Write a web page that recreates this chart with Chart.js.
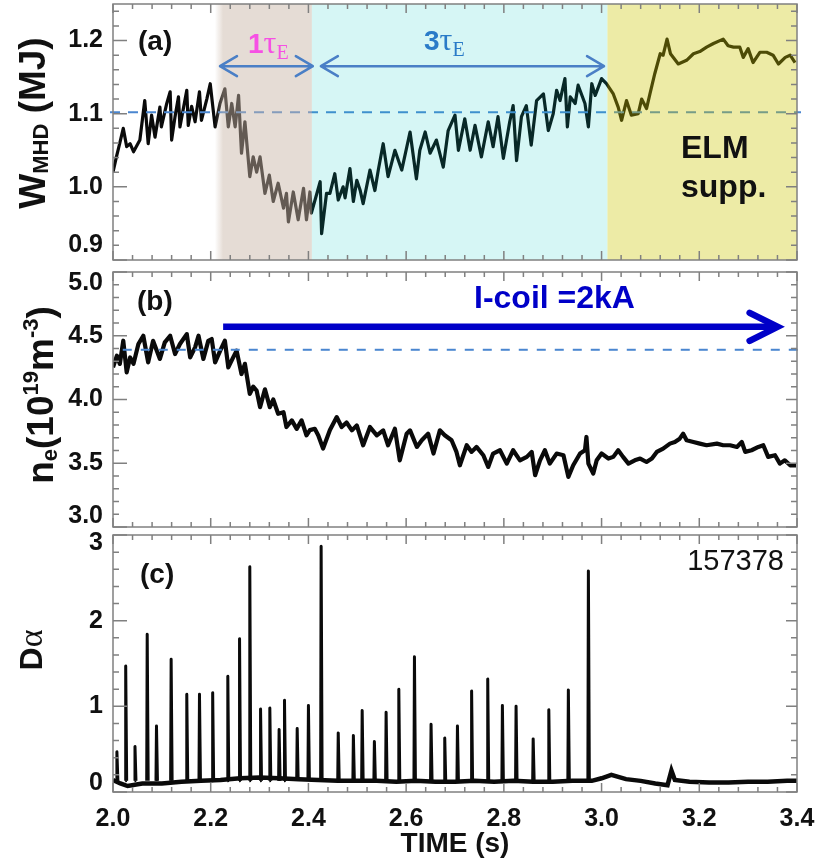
<!DOCTYPE html>
<html>
<head>
<meta charset="utf-8">
<script src="https://cdn.jsdelivr.net/npm/chart.js@4.4.0/dist/chart.umd.min.js"></script>
<style>
  body { margin: 0; background: #fff; width: 822px; height: 865px; overflow: hidden; position: relative; }
  canvas { position: absolute; left: 0; }
</style>
</head>
<body>
<canvas id="chartA" width="822" height="264" style="top:0px"></canvas>
<canvas id="chartB" width="822" height="263" style="top:268px"></canvas>
<canvas id="chartC" width="822" height="335" style="top:530px"></canvas>
<script>
// values (shot 157378)
const timeA = [2.000, 2.007, 2.014, 2.021, 2.028, 2.035, 2.042, 2.055, 2.065, 2.072,
  2.079, 2.086, 2.096, 2.099, 2.110, 2.117, 2.120, 2.127, 2.134, 2.137,
  2.151, 2.154, 2.161, 2.168, 2.177, 2.181, 2.192, 2.199, 2.209, 2.219,
  2.229, 2.236, 2.243, 2.250, 2.257, 2.263, 2.270, 2.280, 2.287, 2.294,
  2.301, 2.311, 2.320, 2.328, 2.338, 2.349, 2.355, 2.359, 2.369, 2.379,
  2.390, 2.396, 2.403, 2.406, 2.424, 2.427, 2.437, 2.444, 2.454, 2.461,
  2.471, 2.475, 2.485, 2.492, 2.499, 2.506, 2.512, 2.526, 2.536, 2.543,
  2.553, 2.563, 2.577, 2.591, 2.608, 2.621, 2.628, 2.639, 2.649, 2.662,
  2.676, 2.686, 2.700, 2.707, 2.720, 2.731, 2.741, 2.754, 2.768, 2.778,
  2.788, 2.799, 2.812, 2.819, 2.826, 2.836, 2.846, 2.856, 2.867, 2.881,
  2.891, 2.901, 2.908, 2.915, 2.925, 2.930, 2.936, 2.946, 2.952, 2.966,
  2.973, 2.980, 2.987, 3.000, 3.010, 3.024, 3.034, 3.041, 3.051, 3.061,
  3.075, 3.082, 3.092, 3.099, 3.109, 3.120, 3.126, 3.134, 3.141, 3.157,
  3.174, 3.188, 3.201, 3.215, 3.229, 3.249, 3.259, 3.270, 3.283, 3.290,
  3.300, 3.310, 3.324, 3.338, 3.351, 3.362, 3.376, 3.386, 3.396];
const wmhd = [1.020, 1.041, 1.060, 1.080, 1.055, 1.059, 1.048, 1.064, 1.118, 1.059,
  1.098, 1.068, 1.109, 1.082, 1.114, 1.130, 1.064, 1.096, 1.123, 1.082,
  1.132, 1.084, 1.110, 1.089, 1.130, 1.091, 1.120, 1.141, 1.082, 1.114,
  1.134, 1.082, 1.114, 1.082, 1.125, 1.046, 1.089, 1.014, 1.041, 1.020,
  1.041, 0.991, 1.016, 0.980, 1.005, 0.971, 0.991, 0.952, 0.993, 0.955,
  0.998, 0.955, 0.993, 0.964, 1.007, 0.936, 0.991, 0.991, 1.018, 0.982,
  1.000, 0.985, 1.025, 0.980, 1.009, 0.995, 0.977, 1.023, 0.995, 1.023,
  1.059, 1.014, 1.050, 1.023, 1.075, 1.011, 1.050, 1.075, 1.046, 1.064,
  1.027, 1.077, 1.098, 1.050, 1.093, 1.050, 1.084, 1.041, 1.089, 1.055,
  1.096, 1.039, 1.089, 1.111, 1.036, 1.096, 1.111, 1.057, 1.118, 1.127,
  1.077, 1.100, 1.132, 1.118, 1.148, 1.082, 1.123, 1.114, 1.139, 1.114,
  1.082, 1.141, 1.125, 1.148, 1.141, 1.127, 1.109, 1.091, 1.118, 1.098,
  1.100, 1.120, 1.107, 1.127, 1.155, 1.182, 1.180, 1.202, 1.182, 1.168,
  1.173, 1.182, 1.185, 1.191, 1.196, 1.202, 1.193, 1.191, 1.191, 1.177,
  1.189, 1.170, 1.184, 1.184, 1.180, 1.168, 1.177, 1.180, 1.170];

const timeB = [2.000, 2.008, 2.014, 2.021, 2.028, 2.035, 2.042, 2.052, 2.062, 2.072,
  2.082, 2.096, 2.106, 2.117, 2.127, 2.137, 2.151, 2.158, 2.168, 2.175,
  2.185, 2.195, 2.202, 2.209, 2.219, 2.229, 2.236, 2.246, 2.253, 2.263,
  2.270, 2.280, 2.287, 2.294, 2.301, 2.311, 2.321, 2.328, 2.338, 2.349,
  2.355, 2.366, 2.376, 2.386, 2.396, 2.403, 2.413, 2.420, 2.430, 2.444,
  2.458, 2.468, 2.478, 2.489, 2.499, 2.512, 2.526, 2.540, 2.553, 2.563,
  2.577, 2.587, 2.601, 2.608, 2.622, 2.632, 2.645, 2.656, 2.669, 2.679,
  2.693, 2.703, 2.710, 2.724, 2.734, 2.744, 2.758, 2.768, 2.778, 2.792,
  2.806, 2.819, 2.833, 2.847, 2.857, 2.864, 2.874, 2.884, 2.894, 2.908,
  2.922, 2.932, 2.942, 2.956, 2.966, 2.969, 2.973, 2.983, 2.990, 3.000,
  3.014, 3.024, 3.034, 3.044, 3.055, 3.068, 3.079, 3.092, 3.103, 3.113,
  3.126, 3.140, 3.150, 3.160, 3.167, 3.174, 3.188, 3.201, 3.215, 3.236,
  3.249, 3.263, 3.277, 3.287, 3.294, 3.307, 3.321, 3.331, 3.341, 3.355,
  3.365, 3.375, 3.386, 3.398];
const density = [4.252, 4.344, 4.279, 4.461, 4.213, 4.330, 4.280, 4.435, 4.500, 4.291,
  4.460, 4.318, 4.448, 4.500, 4.357, 4.435, 4.513, 4.330, 4.409, 4.500,
  4.318, 4.460, 4.474, 4.291, 4.380, 4.461, 4.252, 4.330, 4.383, 4.200,
  4.280, 4.044, 4.100, 4.070, 3.940, 4.080, 3.940, 4.000, 3.888, 3.900,
  3.784, 3.836, 3.770, 3.836, 3.719, 3.760, 3.770, 3.720, 3.615, 3.760,
  3.862, 3.784, 3.820, 3.758, 3.797, 3.641, 3.784, 3.719, 3.758, 3.641,
  3.771, 3.523, 3.732, 3.758, 3.628, 3.680, 3.732, 3.576, 3.758, 3.720,
  3.680, 3.589, 3.484, 3.641, 3.589, 3.628, 3.563, 3.471, 3.576, 3.602,
  3.497, 3.602, 3.523, 3.550, 3.589, 3.406, 3.523, 3.602, 3.497, 3.576,
  3.563, 3.393, 3.484, 3.576, 3.602, 3.706, 3.497, 3.419, 3.523, 3.576,
  3.537, 3.550, 3.602, 3.550, 3.497, 3.523, 3.537, 3.510, 3.537, 3.589,
  3.615, 3.654, 3.667, 3.693, 3.732, 3.680, 3.667, 3.654, 3.641, 3.654,
  3.641, 3.641, 3.628, 3.667, 3.589, 3.602, 3.628, 3.641, 3.550, 3.563,
  3.497, 3.523, 3.484, 3.484];

const elmTimes = [2.008, 2.026, 2.045, 2.070, 2.089, 2.119, 2.151, 2.177, 2.204, 2.235,
  2.259, 2.280, 2.302, 2.321, 2.340, 2.351, 2.377, 2.400, 2.426, 2.461,
  2.492, 2.510, 2.535, 2.559, 2.585, 2.617, 2.651, 2.679, 2.705, 2.734,
  2.767, 2.797, 2.825, 2.860, 2.892, 2.932, 2.973];
const elmPeaks = [0.47, 1.47, 0.53, 1.84, 0.77, 1.55, 1.14, 1.14, 1.16, 1.35,
  1.79, 2.63, 0.97, 0.98, 0.73, 1.07, 0.74, 1.01, 2.87, 0.69,
  0.66, 0.95, 0.59, 0.93, 1.20, 1.58, 0.79, 0.63, 0.77, 1.18,
  1.32, 1.01, 1.00, 0.62, 0.96, 1.19, 2.58];
const elmFoot = 0.13;
const baseTimes = [2.000, 2.015, 2.030, 2.060, 2.100, 2.140, 2.180, 2.220, 2.260, 2.300,
  2.340, 2.380, 2.420, 2.460, 2.500, 2.540, 2.580, 2.620, 2.660, 2.700,
  2.740, 2.780, 2.820, 2.860, 2.900, 2.940, 2.980, 3.000, 3.020, 3.050,
  3.080, 3.110, 3.135, 3.143, 3.150, 3.180, 3.220, 3.260, 3.300, 3.340,
  3.380, 3.400];
const baseDa = [0.14, 0.10, 0.07, 0.10, 0.10, 0.12, 0.13, 0.14, 0.16, 0.17,
  0.16, 0.15, 0.14, 0.13, 0.13, 0.13, 0.12, 0.13, 0.12, 0.12,
  0.13, 0.12, 0.13, 0.12, 0.12, 0.13, 0.13, 0.16, 0.20, 0.15,
  0.13, 0.10, 0.08, 0.25, 0.14, 0.12, 0.11, 0.11, 0.12, 0.12,
  0.13, 0.13];

const xTickLabels = [2.0, 2.2, 2.4, 2.6, 2.8, 3.0, 3.2, 3.4];
const yTicksA = [0.9, 1.0, 1.1, 1.2];
const yTicksB = [3.0, 3.5, 4.0, 4.5, 5.0];
const yTicksC = [0, 1, 2, 3];
const refW = 1.102;
const refNe = 4.39;

const SANS = "'Liberation Sans', Arial, sans-serif";
const SERIF = "'Liberation Serif', 'DejaVu Serif', serif";

// phase bands of panel (a): [from, to, r, g, b, alpha] laid over the trace
const bands = [
  [2.225, 2.407, 200, 181, 166, 0.47],
  [2.407, 3.012, 0, 196, 190, 0.16],
  [3.012, 3.4, 204, 198, 0, 0.35],
];

function drawRich(ctx, parts, x, y, angle, align) {
  ctx.save();
  ctx.translate(x, y);
  ctx.rotate(angle);
  ctx.textBaseline = "alphabetic";
  ctx.textAlign = "left";
  let total = 0;
  parts.forEach((p) => {
    ctx.font = p.f;
    total += ctx.measureText(p.t).width;
  });
  let cx = align === "center" ? -total / 2 : 0;
  parts.forEach((p) => {
    ctx.font = p.f;
    ctx.fillStyle = p.c || "#111";
    ctx.fillText(p.t, cx, p.dy || 0);
    cx += ctx.measureText(p.t).width;
  });
  ctx.restore();
}

function dashed(ctx, x0, x1, yy, color, dash, w) {
  ctx.save();
  ctx.strokeStyle = color;
  ctx.lineWidth = w;
  ctx.setLineDash(dash);
  ctx.beginPath();
  ctx.moveTo(x0, yy);
  ctx.lineTo(x1, yy);
  ctx.stroke();
  ctx.restore();
}

// IDL style box with inward ticks on all four sides
function drawFrame(chart, minor, major) {
  const { ctx, chartArea: a, scales } = chart;
  const x = scales.x, y = scales.y;
  ctx.save();
  ctx.strokeStyle = "#808080";
  ctx.lineWidth = 1.5;
  ctx.strokeRect(a.left, a.top, a.right - a.left, a.bottom - a.top);
  ctx.beginPath();
  for (let i = 0; i <= 35; i++) {
    const px = x.getPixelForValue(x.min + i * 0.04);
    const len = i % 5 === 0 ? 9 : 5;
    ctx.moveTo(px, a.bottom);
    ctx.lineTo(px, a.bottom - len);
    ctx.moveTo(px, a.top);
    ctx.lineTo(px, a.top + len);
  }
  const n = Math.floor((y.max - y.min) / minor + 1e-6);
  for (let i = 0; i <= n; i++) {
    const v = y.min + i * minor;
    const py = y.getPixelForValue(v);
    const isMajor = Math.abs(v / major - Math.round(v / major)) < 1e-6;
    ctx.moveTo(a.left, py);
    ctx.lineTo(a.left + (isMajor ? 14 : 6), py);
    ctx.moveTo(a.right, py);
    ctx.lineTo(a.right - (isMajor ? 11 : 6), py);
  }
  ctx.stroke();
  ctx.restore();
}

function openHead(ctx, tx, ty, dir, len, half) {
  ctx.moveTo(tx - dir * len, ty - half);
  ctx.lineTo(tx, ty);
  ctx.lineTo(tx - dir * len, ty + half);
}

function yAxisCfg(ticks, lh, fmt, top) {
  return {
    afterFit: (s) => {
      s.width = 113;
      s.paddingTop = 0;
      s.paddingBottom = 0;
    },
    afterBuildTicks: (s) => { s.ticks = ticks.map((v) => ({ value: v })); },
    grid: { display: false, drawTicks: false },
    border: { display: false },
    ticks: {
      padding: 10,
      color: "#111",
      font: { family: SANS, size: 25, weight: "bold", lineHeight: lh },
      callback: (v) => {
        const s = fmt(v);
        if (v === ticks[0]) return [s, ""];
        if (v === top) return ["", s];
        return s;
      },
    },
  };
}

const baseOpts = {
  responsive: false,
  animation: false,
  events: [],
  plugins: { legend: { display: false }, tooltip: { enabled: false } },
};

// ---------- panel (a) W_MHD ----------
const annotA = {
  id: "annotA",
  afterDatasetsDraw(chart) {
    const { ctx, chartArea: a, scales: { x, y } } = chart;
    dashed(ctx, a.left - 3, a.right + 4, y.getPixelForValue(refW), "#4a86d0", [10, 8], 2);
    ctx.save();
    bands.forEach((b, i) => {
      const x0 = x.getPixelForValue(b[0]);
      const x1 = x.getPixelForValue(b[1]);
      const rgb = `${b[2]},${b[3]},${b[4]}`;
      ctx.globalAlpha = b[5];
      ctx.fillStyle = `rgb(${rgb})`;
      ctx.fillRect(x0, a.top, x1 - x0, a.bottom - a.top);
      if (i === 0) {
        // soft left edge of the first band
        const g = ctx.createLinearGradient(x0 - 8, 0, x0, 0);
        g.addColorStop(0, `rgba(${rgb},0)`);
        g.addColorStop(1, `rgba(${rgb},1)`);
        ctx.fillStyle = g;
        ctx.fillRect(x0 - 8, a.top, 8, a.bottom - a.top);
      }
    });
    ctx.restore();
    drawFrame(chart, 0.02, 0.1);

    // 1 tau_E and 3 tau_E arrows
    const ay = y.getPixelForValue(1.165);
    const ax = [2.219, 2.409, 2.4255, 3.005].map((v) => x.getPixelForValue(v));
    ctx.save();
    ctx.strokeStyle = "#4a7fc6";
    ctx.lineWidth = 2.5;
    ctx.lineCap = "round";
    ctx.lineJoin = "round";
    ctx.beginPath();
    ctx.moveTo(ax[0], ay); ctx.lineTo(ax[1], ay);
    openHead(ctx, ax[0], ay, -1, 17, 10);
    openHead(ctx, ax[1], ay, 1, 17, 10);
    ctx.moveTo(ax[2], ay); ctx.lineTo(ax[3], ay);
    openHead(ctx, ax[2], ay, -1, 17, 10);
    openHead(ctx, ax[3], ay, 1, 17, 10);
    ctx.stroke();
    ctx.restore();

    drawRich(ctx, [
      { t: "1", f: `bold 28px ${SANS}`, c: "#f650e4" },
      { t: "\u03C4", f: `32px ${SERIF}`, c: "#f650e4" },
      { t: "E", f: `20px ${SERIF}`, c: "#f650e4", dy: 6 },
    ], 248, 53, 0, "left");
    drawRich(ctx, [
      { t: "3", f: `bold 28px ${SANS}`, c: "#2a7bc8" },
      { t: "\u03C4", f: `32px ${SERIF}`, c: "#2a7bc8" },
      { t: "E", f: `20px ${SERIF}`, c: "#2a7bc8", dy: 6 },
    ], 424, 50, 0, "left");

    drawRich(ctx, [{ t: "(a)", f: `bold 28px ${SANS}` }], 138, 50, 0, "left");
    drawRich(ctx, [{ t: "ELM", f: `bold 32px ${SANS}` }], 681, 158, 0, "left");
    drawRich(ctx, [{ t: "supp.", f: `bold 32px ${SANS}` }], 681, 197, 0, "left");

    drawRich(ctx, [
      { t: "W", f: `bold 37px ${SANS}` },
      { t: "MHD", f: `bold 22px ${SANS}`, dy: 3 },
      { t: " (MJ)", f: `bold 37px ${SANS}` },
    ], 45, 123, -Math.PI / 2, "center");
  },
};

new Chart(document.getElementById("chartA"), {
  type: "line",
  data: {
    datasets: [{
      data: timeA.map((t, i) => ({ x: t, y: wmhd[i] })),
      borderColor: "#0a0a0a",
      borderWidth: 3.2,
      borderJoinStyle: "round",
      pointRadius: 0,
      tension: 0,
    }],
  },
  options: {
    ...baseOpts,
    layout: { padding: { top: 4, right: 25, bottom: 4, left: 0 } },
    scales: {
      x: { type: "linear", min: 2.0, max: 3.4, display: false },
      y: { min: 0.9, max: 1.25, ...yAxisCfg(yTicksA, 1.2, (v) => v.toFixed(1), null) },
    },
  },
  plugins: [annotA],
});

// ---------- panel (b) n_e ----------
const annotB = {
  id: "annotB",
  afterDatasetsDraw(chart) {
    const { ctx, chartArea: a, scales: { x, y } } = chart;
    dashed(ctx, x.getPixelForValue(2.02), a.right + 1, y.getPixelForValue(refNe), "#4a86d0", [9, 9], 2);
    drawFrame(chart, 0.1, 0.5);

    const by = y.getPixelForValue(4.57);
    const x0 = x.getPixelForValue(2.2254);
    const x1 = x.getPixelForValue(3.3604);
    ctx.save();
    ctx.strokeStyle = "#0000c8";
    ctx.lineWidth = 6.5;
    ctx.lineCap = "butt";
    ctx.beginPath();
    ctx.moveTo(x0, by);
    ctx.lineTo(x1 - 3, by);
    ctx.stroke();
    ctx.lineCap = "round";
    ctx.lineJoin = "miter";
    ctx.beginPath();
    openHead(ctx, x1, by, 1, 28, 14);
    ctx.stroke();
    ctx.restore();

    drawRich(ctx, [{ t: "I-coil =2kA", f: `bold 32px ${SANS}`, c: "#0000c8" }], 474, 40, 0, "left");
    drawRich(ctx, [{ t: "(b)", f: `bold 28px ${SANS}` }], 137, 42, 0, "left");

    drawRich(ctx, [
      { t: "n", f: `bold 37px ${SANS}` },
      { t: "e", f: `bold 22px ${SANS}`, dy: 4 },
      { t: "(10", f: `bold 37px ${SANS}` },
      { t: "19", f: `bold 22px ${SANS}`, dy: -15 },
      { t: "m", f: `bold 37px ${SANS}` },
      { t: "-3", f: `bold 22px ${SANS}`, dy: -15 },
      { t: ")", f: `bold 37px ${SANS}` },
    ], 53, 127, -Math.PI / 2, "center");
  },
};

new Chart(document.getElementById("chartB"), {
  type: "line",
  data: {
    datasets: [{
      data: timeB.map((t, i) => ({ x: t, y: density[i] })),
      borderColor: "#0a0a0a",
      borderWidth: 4.2,
      borderJoinStyle: "round",
      pointRadius: 0,
      tension: 0,
    }],
  },
  options: {
    ...baseOpts,
    layout: { padding: { top: 4, right: 25, bottom: 4, left: 0 } },
    scales: {
      x: { type: "linear", min: 2.0, max: 3.4, display: false },
      y: { min: 3.0, max: 5.0, ...yAxisCfg(yTicksB, 0.88, (v) => v.toFixed(1), 5.0) },
    },
  },
  plugins: [annotB],
});

// ---------- panel (c) D-alpha ----------
const spikes = [];
elmTimes.forEach((t, i) => {
  spikes.push({ x: t - 0.001, y: elmFoot }, { x: t, y: elmPeaks[i] }, { x: t + 0.002, y: elmFoot }, { x: t + 0.002, y: null });
});

const annotC = {
  id: "annotC",
  afterDatasetsDraw(chart) {
    const { ctx } = chart;
    drawFrame(chart, 0.2, 1);
    drawRich(ctx, [{ t: "(c)", f: `bold 28px ${SANS}` }], 140, 53, 0, "left");
    ctx.save();
    ctx.font = `29px ${SANS}`;
    ctx.fillStyle = "#111";
    ctx.textAlign = "right";
    ctx.fillText("157378", 784, 40);
    ctx.restore();
    drawRich(ctx, [
      { t: "D", f: `bold 32px ${SANS}` },
      { t: "\u03B1", f: `34px ${SERIF}` },
    ], 42, 120, -Math.PI / 2, "center");
  },
};

new Chart(document.getElementById("chartC"), {
  type: "line",
  data: {
    datasets: [
      {
        data: baseTimes.map((t, i) => ({ x: t, y: baseDa[i] })),
        borderColor: "#0a0a0a",
        borderWidth: 4.5,
        pointRadius: 0,
        tension: 0,
      },
      {
        data: spikes,
        borderColor: "#0a0a0a",
        borderWidth: 3,
        borderJoinStyle: "round",
        pointRadius: 0,
        tension: 0,
        spanGaps: false,
      },
    ],
  },
  options: {
    ...baseOpts,
    layout: { padding: { top: 5, right: 25, bottom: 0, left: 0 } },
    scales: {
      x: {
        type: "linear",
        min: 2.0,
        max: 3.4,
        afterFit: (s) => {
          s.height = 73;
          s.paddingLeft = 0;
          s.paddingRight = 0;
        },
        afterBuildTicks: (s) => { s.ticks = xTickLabels.map((v) => ({ value: v })); },
        grid: { display: false, drawTicks: false },
        border: { display: false },
        ticks: {
          padding: 12,
          autoSkip: false,
          maxRotation: 0,
          color: "#111",
          font: { family: SANS, size: 25, weight: "bold" },
          callback: (v) => v.toFixed(1),
        },
        title: {
          display: true,
          text: "TIME (s)",
          color: "#111",
          font: { family: SANS, size: 28, weight: "bold" },
          padding: { top: 0, bottom: 4 },
        },
      },
      y: { min: 0, max: 3, ...yAxisCfg(yTicksC, 0.68, (v) => String(v), 3) },
    },
  },
  plugins: [annotC],
});
</script>
</body>
</html>
